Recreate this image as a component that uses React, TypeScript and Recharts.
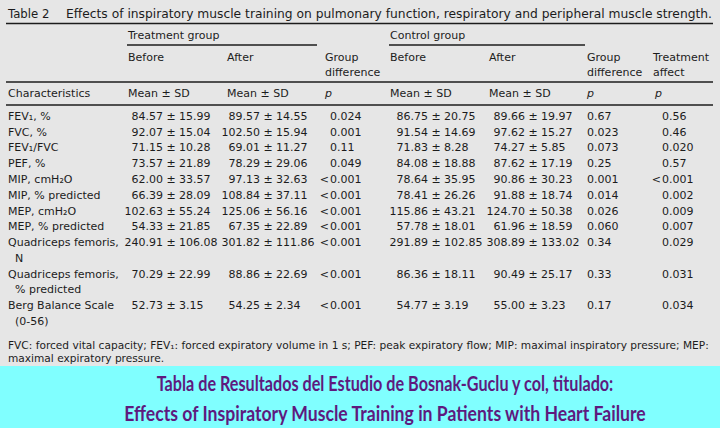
import React from "react";
import { ComposedChart, XAxis, YAxis, Scatter, Customized } from "recharts";

// ---------- data ----------
const characteristics: string[][] = [
  ["FEV₁, %"],
  ["FVC, %"],
  ["FEV₁/FVC"],
  ["PEF, %"],
  ["MIP, cmH₂O"],
  ["MIP, % predicted"],
  ["MEP, cmH₂O"],
  ["MEP, % predicted"],
  ["Quadriceps femoris,", "N"],
  ["Quadriceps femoris,", "% predicted"],
  ["Berg Balance Scale", "(0-56)"],
];

const treatmentBeforeMean = [84.57, 92.07, 71.15, 73.57, 62.0, 66.39, 102.63, 54.33, 240.91, 70.29, 52.73];
const treatmentBeforeSD = [15.99, 15.04, 10.28, 21.89, 33.57, 28.09, 55.24, 21.85, 106.08, 22.99, 3.15];
const treatmentAfterMean = [89.57, 102.5, 69.01, 78.29, 97.13, 108.84, 125.06, 67.35, 301.82, 88.86, 54.25];
const treatmentAfterSD = [14.55, 15.94, 11.27, 29.06, 32.63, 37.11, 56.16, 22.89, 111.86, 22.69, 2.34];
const treatmentGroupP = ["0.024", "0.001", "0.11", "0.049", "<0.001", "<0.001", "<0.001", "<0.001", "<0.001", "<0.001", "<0.001"];

const controlBeforeMean = [86.75, 91.54, 71.83, 84.08, 78.64, 78.41, 115.86, 57.78, 291.89, 86.36, 54.77];
const controlBeforeSD = [20.75, 14.69, 8.28, 18.88, 35.95, 26.26, 43.21, 18.01, 102.85, 18.11, 3.19];
const controlAfterMean = [89.66, 97.62, 74.27, 87.62, 90.86, 91.88, 124.7, 61.96, 308.89, 90.49, 55.0];
const controlAfterSD = [19.97, 15.27, 5.85, 17.19, 30.23, 18.74, 50.38, 18.59, 133.02, 25.17, 3.23];
const controlGroupP = ["0.67", "0.023", "0.073", "0.25", "0.001", "0.014", "0.026", "0.060", "0.34", "0.33", "0.17"];

const treatmentAffectP = ["0.56", "0.46", "0.020", "0.57", "<0.001", "0.002", "0.009", "0.007", "0.029", "0.031", "0.034"];

const tableTitleLabel = "Table 2";
const tableTitle = "Effects of inspiratory muscle training on pulmonary function, respiratory and peripheral muscle strength.";
const footnoteLines = [
  "FVC: forced vital capacity; FEV₁: forced expiratory volume in 1 s; PEF: peak expiratory flow; MIP: maximal inspiratory pressure; MEP:",
  "maximal expiratory pressure.",
];
const bannerLines = [
  "Tabla de Resultados del Estudio de Bosnak-Guclu y col, titulado:",
  "Effects of Inspiratory Muscle Training in Patients with Heart Failure",
];

// ---------- layout / style ----------
const W = 720;
const H = 428;
const FONT = "'DejaVu Sans', Verdana, sans-serif";
const INK = "#1c1c1c";
const BG = "#e6e6e6";
const BAND = "#80ffff";
const PURPLE = "#5e1a7e";
const BANNER_SCALE_X = [0.79, 0.86];

const COL = {
  label: 8,
  tb: 171,
  ta: 268,
  tp: 330,
  cb: 436,
  ca: 533,
  cp: 587,
  tx: 662,
};

// one entry per visual line of the table body
type Line = {
  key: string;
  label: string;
  tb?: [string, string];
  ta?: [string, string];
  tp?: string;
  cb?: [string, string];
  ca?: [string, string];
  cp?: string;
  tx?: string;
};

const lines: Line[] = [];
characteristics.forEach((labelLines, i) => {
  labelLines.forEach((lab, j) => {
    if (j === 0) {
      lines.push({
        key: `r${i}-${j}`,
        label: lab,
        tb: [treatmentBeforeMean[i].toFixed(2), treatmentBeforeSD[i].toFixed(2)],
        ta: [treatmentAfterMean[i].toFixed(2), treatmentAfterSD[i].toFixed(2)],
        tp: treatmentGroupP[i],
        cb: [controlBeforeMean[i].toFixed(2), controlBeforeSD[i].toFixed(2)],
        ca: [controlAfterMean[i].toFixed(2), controlAfterSD[i].toFixed(2)],
        cp: controlGroupP[i],
        tx: treatmentAffectP[i],
      });
    } else {
      lines.push({ key: `r${i}-${j}`, label: "  " + lab });
    }
  });
});

const withCol = (c: number) => lines.map((l) => ({ ...l, x: c }));

const textProps = { fontFamily: FONT, fontSize: 11, fill: INK } as const;

function LabelCell(props: any) {
  const { cx, cy, payload } = props;
  if (cx == null || cy == null) return null;
  const indent = payload.label.startsWith("  ");
  return (
    <text x={cx + (indent ? 7 : 0)} y={cy} dy="0.36em" {...textProps} textAnchor="start">
      {payload.label.trim()}
    </text>
  );
}

function makePm(field: keyof Line) {
  return function PmCell(props: any) {
    const { cx, cy, payload } = props;
    const v = payload[field] as [string, string] | undefined;
    if (!v || cx == null || cy == null) return null;
    return (
      <g>
        <text x={cx - 8} y={cy} dy="0.36em" {...textProps} textAnchor="end">{v[0]}</text>
        <text x={cx} y={cy} dy="0.36em" {...textProps} textAnchor="middle">±</text>
        <text x={cx + 8} y={cy} dy="0.36em" {...textProps} textAnchor="start">{v[1]}</text>
      </g>
    );
  };
}

function makeP(field: keyof Line) {
  return function PCell(props: any) {
    const { cx, cy, payload } = props;
    const v = payload[field] as string | undefined;
    if (!v || cx == null || cy == null) return null;
    if (v.startsWith("<")) {
      return (
        <g>
          <text x={cx - 1} y={cy} dy="0.36em" {...textProps} textAnchor="end">{"<"}</text>
          <text x={cx} y={cy} dy="0.36em" {...textProps} textAnchor="start">{v.slice(1)}</text>
        </g>
      );
    }
    return (
      <text x={cx} y={cy} dy="0.36em" {...textProps} textAnchor="start">{v}</text>
    );
  };
}

const T = (p: { x: number; y: number; children: React.ReactNode; italic?: boolean; size?: number; len?: number }) => (
  <text
    x={p.x}
    y={p.y}
    {...textProps}
    fontSize={p.size ?? 11}
    fontStyle={p.italic ? "italic" : "normal"}
    {...(p.len ? { textLength: p.len, lengthAdjust: "spacingAndGlyphs" } : {})}
  >
    {p.children}
  </text>
);

function Decor() {
  return (
    <g>
      {/* title */}
      <T x={8} y={18} size={11.7}>{tableTitleLabel}</T>
      <T x={66} y={18} size={11.7} len={646}>{tableTitle}</T>
      <line x1={6} x2={713} y1={23.5} y2={23.5} stroke={INK} strokeWidth={1.6} />
      {/* group headers */}
      <T x={128} y={39}>Treatment group</T>
      <line x1={127} x2={317} y1={45} y2={45} stroke={INK} strokeWidth={1.5} />
      <T x={390} y={39}>Control group</T>
      <line x1={389} x2={585} y1={45} y2={45} stroke={INK} strokeWidth={1.5} />
      {/* sub headers */}
      <T x={128} y={61}>Before</T>
      <T x={227} y={61}>After</T>
      <T x={325} y={61}>Group</T>
      <T x={325} y={76}>difference</T>
      <T x={390} y={61}>Before</T>
      <T x={489} y={61}>After</T>
      <T x={587} y={61}>Group</T>
      <T x={587} y={76}>difference</T>
      <T x={653} y={61}>Treatment</T>
      <T x={653} y={76}>affect</T>
      <line x1={6} x2={713} y1={82} y2={82} stroke={INK} strokeWidth={1.6} />
      {/* column header row */}
      <T x={8} y={97}>Characteristics</T>
      <T x={128} y={97}>Mean ± SD</T>
      <T x={227} y={97}>Mean ± SD</T>
      <T x={325} y={97} italic>p</T>
      <T x={390} y={97}>Mean ± SD</T>
      <T x={489} y={97}>Mean ± SD</T>
      <T x={587} y={97} italic>p</T>
      <T x={655} y={97} italic>p</T>
      <line x1={6} x2={713} y1={105} y2={105} stroke={INK} strokeWidth={1.3} />
      {/* footnote */}
      {footnoteLines.map((f, i) => (
        <text key={i} x={8} y={349 + i * 13} fontFamily={FONT} fontSize={10.6} fill={INK}>
          {f}
        </text>
      ))}
      {/* banner */}
      <rect x={0} y={366} width={W} height={H - 366} fill={BAND} />
      {bannerLines.map((b, i) => (
        <g key={i} transform={`translate(385, ${391 + i * 30}) scale(${BANNER_SCALE_X[i]}, 1)`}>
          <text
            x={0}
            y={0}
            textAnchor="middle"
            fontFamily="Lato, 'Open Sans', sans-serif"
            fontWeight="bold"
            fontSize={20.5}
            fill={PURPLE}
          >
            {b}
          </text>
        </g>
      ))}
    </g>
  );
}

export default function App() {
  return (
    <div style={{ position: "absolute", left: 0, top: 0, width: W, height: H, background: BG }}>
      <ComposedChart width={W} height={H} margin={{ top: 116, right: 0, bottom: 107, left: 0 }}>
        <XAxis type="number" dataKey="x" domain={[0, W]} hide />
        <YAxis type="category" dataKey="key" hide width={0} reversed allowDuplicatedCategory={false} />
        <Customized component={Decor} />
        <Scatter data={withCol(COL.label)} shape={LabelCell} isAnimationActive={false} />
        <Scatter data={withCol(COL.tb)} shape={makePm("tb")} isAnimationActive={false} />
        <Scatter data={withCol(COL.ta)} shape={makePm("ta")} isAnimationActive={false} />
        <Scatter data={withCol(COL.tp)} shape={makeP("tp")} isAnimationActive={false} />
        <Scatter data={withCol(COL.cb)} shape={makePm("cb")} isAnimationActive={false} />
        <Scatter data={withCol(COL.ca)} shape={makePm("ca")} isAnimationActive={false} />
        <Scatter data={withCol(COL.cp)} shape={makeP("cp")} isAnimationActive={false} />
        <Scatter data={withCol(COL.tx)} shape={makeP("tx")} isAnimationActive={false} />
      </ComposedChart>
    </div>
  );
}
